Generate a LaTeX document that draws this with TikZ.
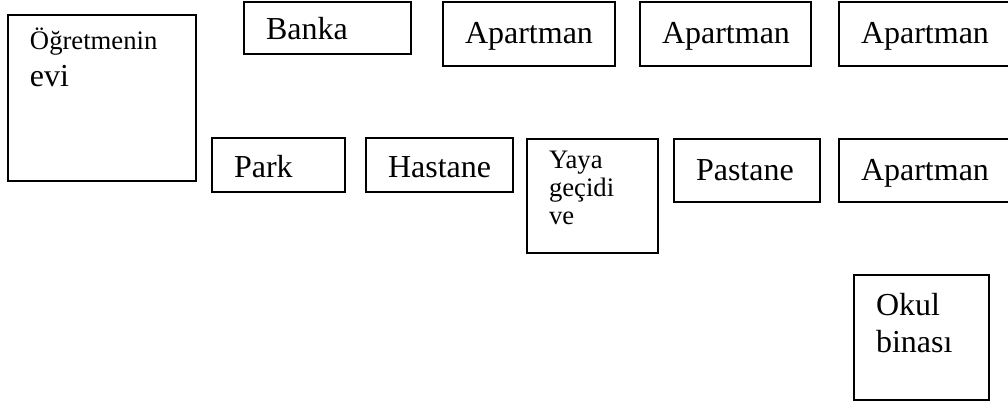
\documentclass[tikz,border=0pt]{standalone}
\usepackage{fontspec}
\setmainfont{Liberation Serif}
\usetikzlibrary{positioning}

\begin{document}
\begin{tikzpicture}[
    x=0.375pt, y=-0.375pt,
    bldg/.style={rectangle, draw=black, line width=0.75pt, anchor=north west, align=left, inner xsep=8.25pt, inner ysep=0pt, font=\fontsize{12}{13.875}\selectfont},
    onerow/.style={bldg, text height=#1, text depth=5.25pt},
    widerow/.style={bldg, text height=15.375pt, text depth=#1},
    smalltxt/.style={font=\fontsize{10}{10.5}\selectfont}
]
\useasboundingbox (0,0) rectangle (1008,403);

% top row
\node[bldg, text width=54pt, text height=13.125pt, text depth=49.125pt] (ogretmen) at (7,14) {{\fontsize{10}{12}\selectfont Öğretmenin}\\evi};
\node[onerow=14.25pt, text width=46.125pt] (banka) at (243,1) {Banka};
\node[widerow=8.625pt, text width=48pt] (apt1) at (442,1) {Apartman};
\node[widerow=8.625pt, text width=47.625pt] (apt2) at (639,1) {Apartman};
\node[widerow=8.625pt, text width=49.875pt] (apt3) at (838,1) {Apartman};

% second row
\node[onerow=15pt, text width=33.375pt] (park) at (211,137) {Park};
\node[onerow=15pt, text width=38.625pt] (hastane) at (365,137) {Hastane};
\node[bldg, smalltxt, text width=32.625pt, text height=10.875pt, text depth=31.875pt] (yaya) at (526,138) {Yaya\\geçidi\\ve};
\node[widerow=8.25pt, text width=38.25pt] (pastane) at (673,138) {Pastane};
\node[widerow=8.25pt, text width=49.875pt] (apt5) at (838,138) {Apartman};

% school
\node[bldg, text width=34.125pt, text height=15pt, text depth=31.875pt] (okul) at (853,274) {Okul\\binası};

\end{tikzpicture}
\end{document}
